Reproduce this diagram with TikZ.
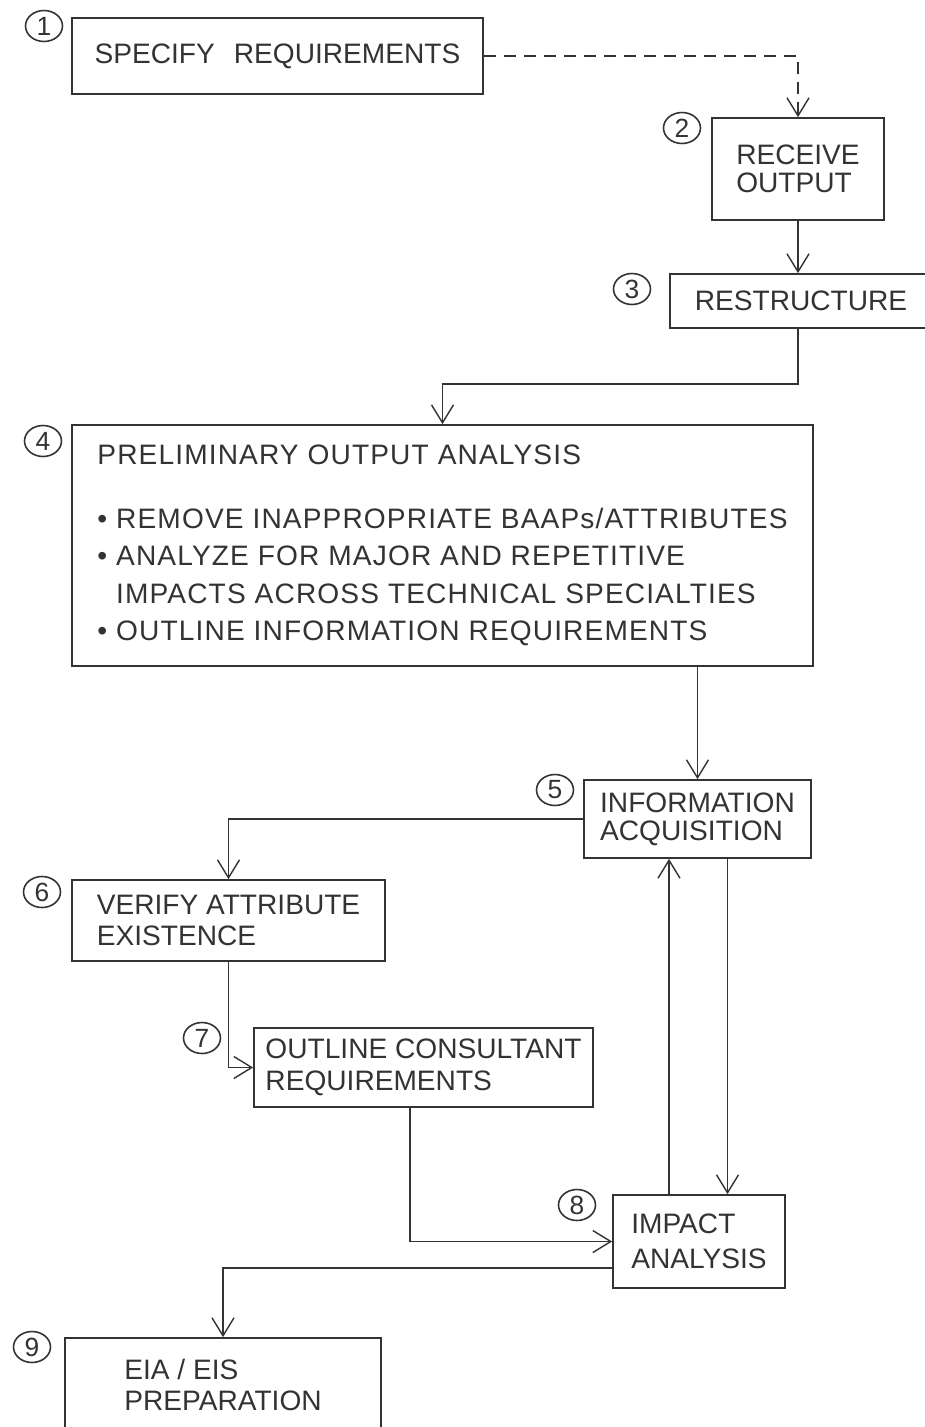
\documentclass[tikz,border=0pt]{standalone}
\usepackage{fontspec}
\setmainfont{Liberation Sans}
\usetikzlibrary{arrows.meta,shapes.geometric}

\definecolor{ink}{gray}{0.2}

\tikzset{
  box/.style={draw=ink, line width=1pt, align=left, inner sep=0pt, text=ink,
    font=\fontsize{16pt}{18pt}\selectfont},
  num/.style={draw=ink, ellipse, line width=0.9pt, minimum width=0.74cm,
    minimum height=0.62cm, inner sep=0pt, text=ink,
    font=\fontsize{15pt}{15pt}\selectfont},
  link/.style={draw=ink, line width=0.8pt,
    -{Straight Barb[length=3.6mm,width=4.4mm]}},
}

\begin{document}
\begin{tikzpicture}[x=0.02cm, y=-0.02cm]
\useasboundingbox (0,0) rectangle (925,1427);
\fill[white] (0,0) rectangle (925,1427);

% 要件の指定
\node[box, minimum width=8.22cm, minimum height=1.52cm] (spec) at (277.5,56) {SPECIFY\hspace{0.4em} REQUIREMENTS};
\node[num] (n1) at (44,26) {1};

% 出力の受領
\node[box, minimum width=3.44cm, minimum height=2.04cm, font=\fontsize{16pt}{16pt}\selectfont] (recv) at (798,169) {RECEIVE\\OUTPUT};
\node[num] (n2) at (682,128) {2};

% 再構成
\node[box, minimum width=5.24cm, minimum height=1.08cm] (restr) at (801,301) {RESTRUCTURE};
\node[num] (n3) at (632,289) {3};

% 予備分析
\node[box, minimum width=14.82cm, minimum height=4.82cm, font=\fontsize{16pt}{21.3pt}\selectfont\addfontfeature{LetterSpace=4}] (prelim) at (442.5,545.5)
{PRELIMINARY OUTPUT ANALYSIS\\[0.53cm]
\textbullet\ REMOVE INAPPROPRIATE BAAPs/ATTRIBUTES\\
\textbullet\ ANALYZE FOR MAJOR AND REPETITIVE\\
\hphantom{\textbullet\ }IMPACTS ACROSS TECHNICAL SPECIALTIES\\
\textbullet\ OUTLINE INFORMATION REQUIREMENTS};
\node[num] (n4) at (43,441) {4};

% 情報収集
\node[box, minimum width=4.54cm, minimum height=1.56cm, font=\fontsize{16pt}{16pt}\selectfont] (info) at (697.5,819) {INFORMATION\\ACQUISITION};
\node[num] (n5) at (555,790) {5};

% 属性の確認
\node[box, minimum width=6.26cm, minimum height=1.62cm] (verify) at (228.5,920.5) {VERIFY ATTRIBUTE\\EXISTENCE};
\node[num] (n6) at (42,892) {6};

% コンサルタント要件
\node[box, minimum width=6.78cm, minimum height=1.58cm] (consult) at (423.5,1067.5) {OUTLINE CONSULTANT\\REQUIREMENTS};
\node[num] (n7) at (202,1038) {7};

% 影響分析
\node[box, minimum width=3.44cm, minimum height=1.86cm, font=\fontsize{16pt}{19.9pt}\selectfont] (impact) at (699,1241.5) {IMPACT\\ANALYSIS};
\node[num] (n8) at (577,1205) {8};

% EIA/EIS作成
\node[box, minimum width=6.32cm, minimum height=1.88cm] (eis) at (223,1385) {EIA / EIS\\PREPARATION};
\node[num] (n9) at (32,1347) {9};

% 矢印
\draw[link, dash pattern=on 0.24cm off 0.16cm] (spec.east) -| (recv.north);
\draw[link] (recv.south) -- (recv.south |- restr.north);
\draw[link] (recv.south |- restr.south) -- ++(0,55) -| (prelim.north);
\draw[link] (prelim.south -| info.north) -- (info.north);
\draw[link] (info.west) -| (verify.north);
\draw[link] (verify.south) |- (consult.west);
\draw[link] ([xshift=-0.27cm]consult.south) |- (impact.west);
\draw[link] ([xshift=-0.6cm]impact.north) -- ([xshift=-0.6cm]impact.north |- info.south);
\draw[link] ([xshift=0.6cm]info.south) -- ([xshift=0.6cm]info.south |- impact.north);
\draw[link] ([yshift=-0.53cm]impact.west) -| (eis.north);

\end{tikzpicture}
\end{document}
